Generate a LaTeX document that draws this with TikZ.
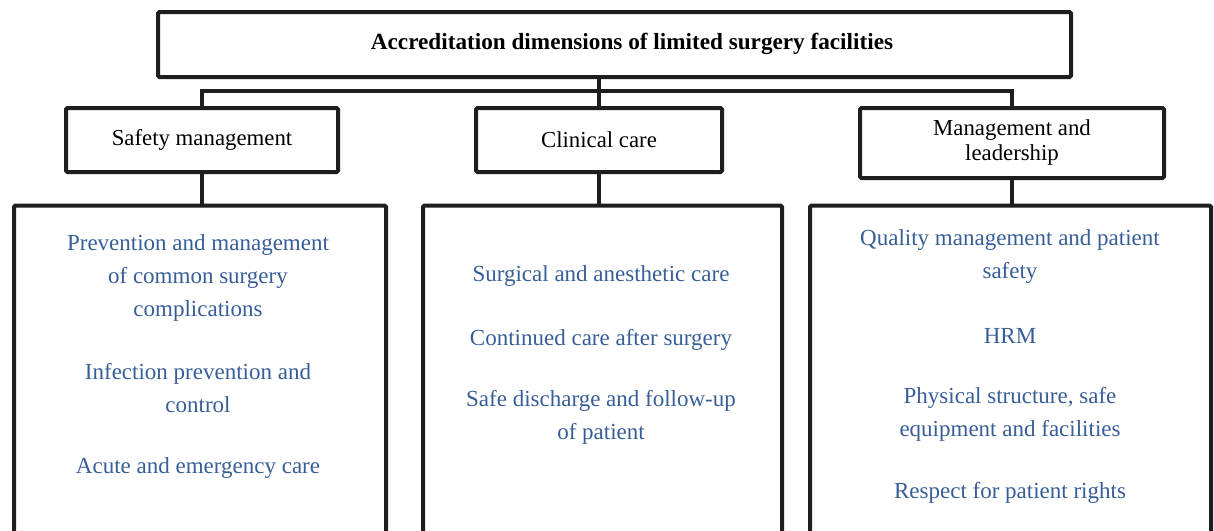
\documentclass[tikz,border=0pt]{standalone}
\usepackage{fontspec}
\setmainfont{Liberation Serif}
\definecolor{txtblue}{RGB}{56,94,152}
\definecolor{linegray}{RGB}{30,30,30}
\begin{document}
\begin{tikzpicture}[x=1pt,y=-1pt,
  box/.style={draw=linegray, line width=4pt, rounded corners=1.5pt, inner sep=0pt, fill=white},
  head/.style={box, font=\fontsize{22.8}{25}\selectfont, align=center},
  item/.style={text=txtblue, font=\fontsize{23}{33}\selectfont, align=center, inner sep=0pt},
  conn/.style={draw=linegray, line width=4pt}]
\useasboundingbox (0,0) rectangle (1214,530);
\clip (0,0) rectangle (1214,530);
\fill[white] (0,0) rectangle (1214,530);
% bottom boxes (extend past the lower edge)
\node[box, minimum width=372pt, minimum height=420pt, anchor=north] (b1) at (200,203.5) {};
\node[box, minimum width=359pt, minimum height=420pt, anchor=north] (b2) at (602.5,203.5) {};
\node[box, minimum width=401pt, minimum height=420pt, anchor=north] (b3) at (1010.5,203.5) {};
% top box
\node[box, minimum width=913pt, minimum height=65pt] (top) at (614.5,44.5) {};
\node[font=\fontsize{23.2}{28}\selectfont\bfseries, inner sep=0pt] (title) at (632,44) {Accreditation dimensions of limited surgery facilities};
% second level
\node[head, minimum width=272pt, minimum height=64pt] (sm) at (202,140) {Safety management};
\node[head, minimum width=246pt, minimum height=64pt] (cc) at (599,140) {Clinical care};
\node[head, minimum width=304pt, minimum height=70pt] (ml) at (1012,143) {Management and\\leadership};
% connectors
\draw[conn] (cc.north |- top.south) -- (cc.north);
\draw[conn] (sm.north) -- ++(0,-15) -| (ml.north);
\draw[conn] (sm.south) -- (sm.south |- b1.north);
\draw[conn] (cc.south) -- (cc.south |- b2.north);
\draw[conn] (ml.south) -- (ml.south |- b3.north);
% items
\node[item] (l1) at (198,278) {Prevention and management\\of common surgery\\complications};
\node[item] (l2) at (198,388.5) {Infection prevention and\\control};
\node[item] (l3) at (198,468) {Acute and emergency care};
\node[item] (m1) at (601,276) {Surgical and anesthetic care};
\node[item] (m2) at (601,340) {Continued care after surgery};
\node[item] (m3) at (601,417.5) {Safe discharge and follow-up\\of patient};
\node[item] (r1) at (1010,256.5) {Quality management and patient\\safety};
\node[item] (r2) at (1010,336) {HRM};
\node[item] (r3) at (1010,414) {Physical structure, safe\\equipment and facilities};
\node[item] (r4) at (1010,493) {Respect for patient rights};
\end{tikzpicture}
\end{document}
